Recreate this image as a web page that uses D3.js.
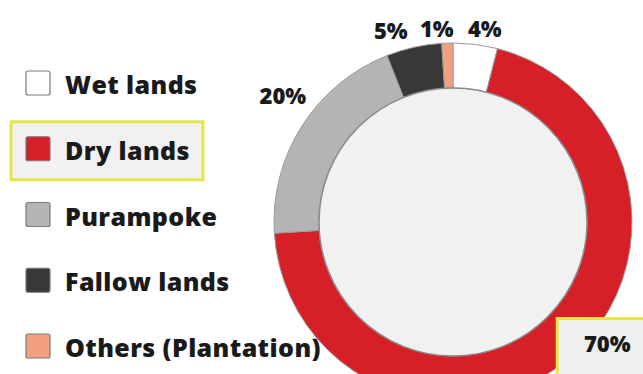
<!DOCTYPE html>
<html><head><meta charset="utf-8">
<script src="https://cdn.jsdelivr.net/npm/d3@7/dist/d3.min.js"></script>
<style>
html,body{margin:0;padding:0;background:#fff;}
svg{display:block;}
text{font-family:"Open Sans",sans-serif;font-weight:800;fill:#1a1a1a;}
</style></head>
<body>
<svg id="c" width="643" height="374"></svg>
<script>
const categories = ["Wet lands","Dry lands","Purampoke","Fallow lands","Others (Plantation)"];
const values = [4,70,20,5,1];
const labels = ["4%","70%","20%","5%","1%"];
const legendOrder = ["Wet lands","Dry lands","Purampoke","Fallow lands","Others (Plantation)"];
const highlighted = "Dry lands";

const colors = d3.scaleOrdinal().domain(categories)
  .range(["#ffffff","#d61f26","#b4b4b4","#383838","#f2a07f"]);

const svg = d3.select("#c");
const cx = 453, cy = 222, rOuter = 179, rInner = 134;

const pie = d3.pie().sort(null).value(d=>d.v);
const arcs = pie(categories.map((c,i)=>({c, v:values[i], l:labels[i]})));
const arc = d3.arc().innerRadius(rInner).outerRadius(rOuter);

const g = svg.append("g").attr("transform",`translate(${cx},${cy})`);
g.selectAll("path.seg").data(arcs).join("path")
  .attr("class","seg").attr("d",arc)
  .attr("fill",d=>colors(d.data.c))
  .attr("stroke","#9a9a9a").attr("stroke-width",1);
g.append("circle").attr("r",rInner).attr("fill","#f1f1f1")
  .attr("stroke","#8a8a8a").attr("stroke-width",1.5);

const labelArc = d3.arc().innerRadius(198).outerRadius(198);
const nudge = {"Wet lands":[7,2],"Dry lands":[28,-32],"Purampoke":[-3,-21],"Fallow lands":[-19,1],"Others (Plantation)":[-10,4]};
const lp = arcs.map(d=>{const p=labelArc.centroid(d); const n=nudge[d.data.c]; return [p[0]+n[0],p[1]+n[1]];});

const bp = lp[1];
g.append("rect").attr("x",bp[0]-50).attr("y",bp[1]-24).attr("width",100).attr("height",70)
  .attr("fill","#efefef").attr("stroke","#e5e54a").attr("stroke-width",3);

g.selectAll("text.pct").data(arcs).join("text")
  .attr("class","pct")
  .attr("x",(d,i)=>lp[i][0]).attr("y",(d,i)=>lp[i][1])
  .attr("text-anchor","middle").attr("dominant-baseline","central")
  .attr("font-size",22).text(d=>d.data.l);

// legend
const ly = d3.scalePoint().domain(legendOrder).range([83,346]);
const leg = svg.append("g");
const hy = ly(highlighted);
leg.append("rect").attr("x",11).attr("y",hy-27).attr("width",192).attr("height",58)
  .attr("fill","#f1f1f1").attr("stroke","#e5e54a").attr("stroke-width",3);
const items = leg.selectAll("g.item").data(legendOrder).join("g").attr("class","item")
  .attr("transform",d=>`translate(0,${ly(d)})`);
items.append("rect").attr("x",26).attr("y",-12).attr("width",24).attr("height",24)
  .attr("rx",2).attr("fill",d=>colors(d)).attr("stroke","#7a7a7a").attr("stroke-width",1.2);
items.append("text").attr("x",65).attr("y",1).attr("dominant-baseline","central")
  .attr("font-size",25).attr("letter-spacing",0.4).text(d=>d);
</script>
</body></html>
